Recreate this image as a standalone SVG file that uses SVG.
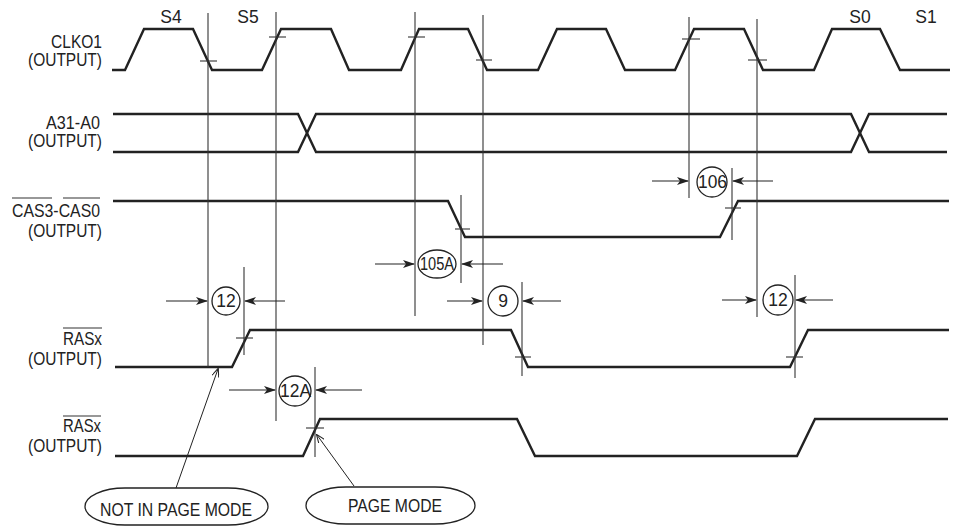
<svg xmlns="http://www.w3.org/2000/svg" width="953" height="527" viewBox="0 0 953 527">
<defs>
<marker id="ah" viewBox="0 0 12 8" refX="11" refY="4" markerWidth="12" markerHeight="8" markerUnits="userSpaceOnUse" orient="auto">
<path d="M0,0 L12,4 L0,8 L3,4 z" fill="#222"/>
</marker>
<marker id="ahs" viewBox="0 0 10 8" refX="9" refY="4" markerWidth="9" markerHeight="7" markerUnits="userSpaceOnUse" orient="auto">
<path d="M0,0 L10,4 L0,8" fill="none" stroke="#222" stroke-width="1.2"/>
</marker>
</defs>
<style>
text{font-family:"Liberation Sans",Arial,sans-serif;font-size:17.5px;fill:#222}
.big{font-size:19px}
.wave{fill:none;stroke:#222;stroke-width:2.4;stroke-linejoin:miter}
.thin{fill:none;stroke:#333;stroke-width:1.1}
.tick{stroke:#333;stroke-width:1.1}
.arr{stroke:#222;stroke-width:1.1;marker-end:url(#ah)}
.lead{stroke:#222;stroke-width:1;marker-end:url(#ahs)}
.ring{fill:#fff;stroke:#222;stroke-width:1.3}
.mid{text-anchor:middle}
</style>
<rect width="953" height="527" fill="#fff"/>

<g id="state-labels">
<text class="mid" x="171" y="23">S4</text>
<text class="mid" x="248" y="23">S5</text>
<text class="mid" x="860" y="23">S0</text>
<text class="mid" x="926" y="23">S1</text>
</g>

<g id="clko1">
<text x="51" y="48" textLength="51" lengthAdjust="spacingAndGlyphs">CLKO1</text>
<text x="28" y="66" textLength="74" lengthAdjust="spacingAndGlyphs">(OUTPUT)</text>
<path class="wave" d="M112,70 H125 L144,29 H193 L212,70 H262 L281,29 H331 L349,70 H401 L419,29 H468 L487,70 H538 L557,29 H606 L625,70 H675 L694,29 H744 L763,70 H814 L832,29 H880 L900,70 H950"/>
</g>

<g id="a31-a0">
<text x="46" y="129" textLength="54" lengthAdjust="spacingAndGlyphs">A31-A0</text>
<text x="28" y="147" textLength="74" lengthAdjust="spacingAndGlyphs">(OUTPUT)</text>
<path class="wave" d="M113,114 H298 L316,152 H851 L869,114 H947"/>
<path class="wave" d="M113,152 H298 L316,114 H851 L869,152 H947"/>
</g>

<g id="cas3-cas0">
<text x="12" y="217" textLength="88" lengthAdjust="spacingAndGlyphs">CAS3-CAS0</text>
<line class="tick" x1="12" y1="198" x2="52" y2="198"/>
<line class="tick" x1="63" y1="198" x2="100" y2="198"/>
<text x="28" y="237" textLength="74" lengthAdjust="spacingAndGlyphs">(OUTPUT)</text>
<path class="wave" d="M113,201 H448 L465,237 H720 L738,201 H949"/>
</g>

<g id="rasx-1">
<text x="63" y="345" textLength="39" lengthAdjust="spacingAndGlyphs">RASx</text>
<line class="tick" x1="63" y1="328" x2="102" y2="328"/>
<text x="28" y="365" textLength="74" lengthAdjust="spacingAndGlyphs">(OUTPUT)</text>
<path class="wave" d="M115,367 H232 L250,330 H511 L528,367 H790 L808,330 H949"/>
</g>

<g id="rasx-2">
<text x="63" y="432" textLength="38" lengthAdjust="spacingAndGlyphs">RASx</text>
<line class="tick" x1="63" y1="416" x2="101" y2="416"/>
<text x="28" y="452" textLength="74" lengthAdjust="spacingAndGlyphs">(OUTPUT)</text>
<path class="wave" d="M115,456 H303 L320,419 H517 L535,456 H797 L815,419 H948"/>
</g>

<g id="connectors">
<line class="thin" x1="208" y1="13" x2="208" y2="367"/>
<line class="thin" x1="276" y1="12" x2="276" y2="421"/>
<line class="thin" x1="415" y1="12" x2="415" y2="316"/>
<line class="thin" x1="483" y1="15" x2="483" y2="345"/>
<line class="thin" x1="689" y1="17" x2="689" y2="198"/>
<line class="thin" x1="757" y1="19" x2="757" y2="317"/>
<line class="thin" x1="244" y1="267" x2="244" y2="355"/>
<line class="thin" x1="461" y1="195" x2="461" y2="283"/>
<line class="thin" x1="522" y1="282" x2="522" y2="376"/>
<line class="thin" x1="732" y1="168" x2="732" y2="240"/>
<line class="thin" x1="795" y1="275" x2="795" y2="378"/>
<line class="thin" x1="315" y1="367" x2="315" y2="457"/>
<line class="tick" x1="200" y1="61" x2="217" y2="61"/>
<line class="tick" x1="269" y1="37" x2="286" y2="37"/>
<line class="tick" x1="408" y1="37" x2="425" y2="37"/>
<line class="tick" x1="476" y1="60" x2="492" y2="60"/>
<line class="tick" x1="682" y1="39" x2="700" y2="39"/>
<line class="tick" x1="748" y1="60" x2="767" y2="60"/>
<line class="tick" x1="455" y1="229" x2="470" y2="229"/>
<line class="tick" x1="725" y1="208" x2="741" y2="208"/>
<line class="tick" x1="236" y1="338" x2="253" y2="338"/>
<line class="tick" x1="515" y1="357" x2="531" y2="357"/>
<line class="tick" x1="786" y1="357" x2="803" y2="357"/>
<line class="tick" x1="306" y1="428" x2="324" y2="428"/>
<line class="arr" x1="166" y1="301" x2="207" y2="301"/>
<line class="arr" x1="285" y1="301" x2="245" y2="301"/>
<line class="arr" x1="375" y1="264" x2="414" y2="264"/>
<line class="arr" x1="503" y1="264" x2="462" y2="264"/>
<line class="arr" x1="447" y1="301" x2="482" y2="301"/>
<line class="arr" x1="561" y1="301" x2="523" y2="301"/>
<line class="arr" x1="652" y1="181" x2="688" y2="181"/>
<line class="arr" x1="773" y1="181" x2="733" y2="181"/>
<line class="arr" x1="722" y1="300" x2="756" y2="300"/>
<line class="arr" x1="833" y1="300" x2="796" y2="300"/>
<line class="arr" x1="229" y1="390" x2="275" y2="390"/>
<line class="arr" x1="362" y1="390" x2="316" y2="390"/>
<line class="lead" x1="176" y1="488" x2="218" y2="369"/>
<line class="lead" x1="354" y1="486" x2="317" y2="435"/>
</g>

<g id="t12a">
<circle class="ring" cx="226" cy="301" r="14"/>
<text class="mid" x="226" y="307">12</text>
</g>
<g id="t105a">
<ellipse class="ring" cx="437" cy="264" rx="19" ry="14"/>
<text x="420" y="270" textLength="34" lengthAdjust="spacingAndGlyphs">105A</text>
</g>
<g id="t9">
<circle class="ring" cx="503" cy="301" r="15"/>
<text class="mid" x="503" y="307">9</text>
</g>
<g id="t106">
<circle class="ring" cx="712" cy="182" r="15"/>
<text x="698" y="188" textLength="29" lengthAdjust="spacingAndGlyphs">106</text>
</g>
<g id="t12b">
<circle class="ring" cx="778" cy="300" r="15"/>
<text class="mid" x="778" y="306">12</text>
</g>
<g id="t12A">
<ellipse class="ring" cx="295" cy="391" rx="16" ry="15"/>
<text x="280" y="397" textLength="31" lengthAdjust="spacingAndGlyphs">12A</text>
</g>

<g id="not-in-page-mode">
<rect class="ring" x="85" y="488" width="183" height="37" rx="40" ry="18.5"/>
<text class="big" x="100" y="516" textLength="152" lengthAdjust="spacingAndGlyphs">NOT IN PAGE MODE</text>
</g>
<g id="page-mode">
<rect class="ring" x="306" y="487" width="169" height="37" rx="40" ry="18.5"/>
<text class="big" x="348" y="512" textLength="94" lengthAdjust="spacingAndGlyphs">PAGE MODE</text>
</g>
</svg>
